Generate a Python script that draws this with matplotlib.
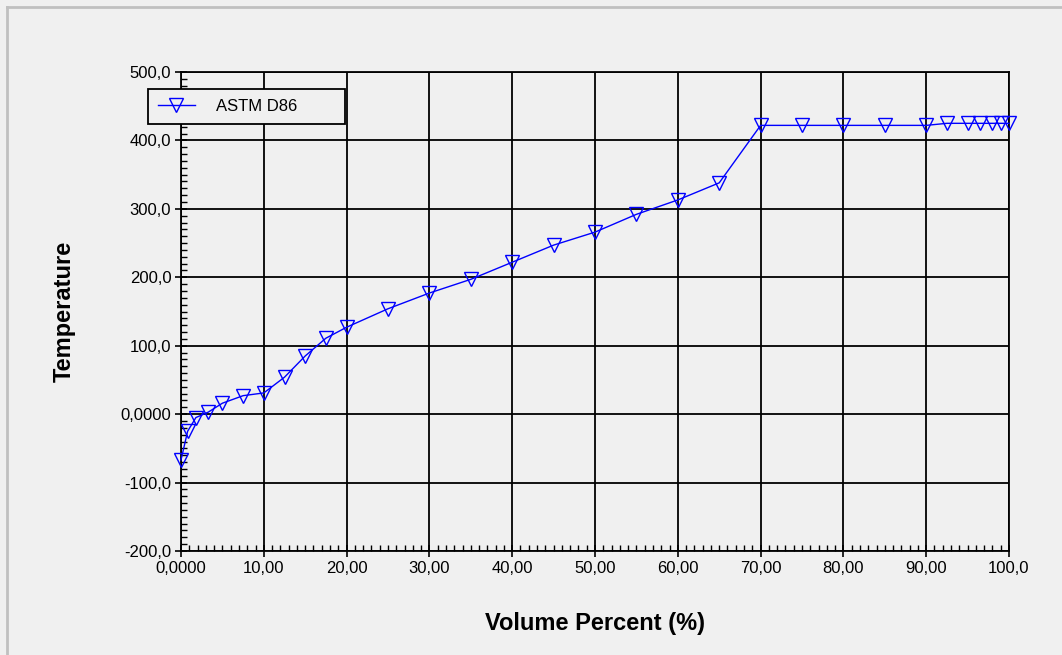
import matplotlib
matplotlib.use('Agg')
import matplotlib.pyplot as plt
from matplotlib.lines import Line2D
from matplotlib.ticker import MultipleLocator

# --- Data ---
volume_pct = [0, 0.8, 1.8, 3.3, 5, 7.5, 10, 12.5, 15, 17.5, 20, 25, 30, 35, 40,
              45, 50, 55, 60, 65, 70, 75, 80, 85, 90, 92.5, 95, 96.5, 98, 99, 100]
temperature = [-67, -25, -5, 3, 16, 27, 31, 54, 85, 111, 127, 154, 177, 197, 222,
               247, 266, 292, 313, 338, 422, 422, 422, 422, 422, 425, 425, 425, 425, 425, 425]

x_ticks = [0, 10, 20, 30, 40, 50, 60, 70, 80, 90, 100]
x_tick_labels = ['0,0000', '10,00', '20,00', '30,00', '40,00', '50,00',
                 '60,00', '70,00', '80,00', '90,00', '100,0']
y_ticks = [-200, -100, 0, 100, 200, 300, 400, 500]
y_tick_labels = ['-200,0', '-100,0', '0,0000', '100,0', '200,0', '300,0', '400,0', '500,0']

BG = '#f0f0f0'
plt.rcParams['font.family'] = ['Liberation Sans', 'DejaVu Sans']

fig = plt.figure(figsize=(10.62, 6.55), dpi=100, facecolor=BG)
ax = fig.add_axes([181 / 1062, 1 - 551 / 655, 828 / 1062, 479 / 655])
ax.set_facecolor(BG)

ax.plot(volume_pct, temperature, color='#0000ff', linewidth=1.0,
        marker='v', markersize=9.5, markerfacecolor='none',
        markeredgecolor='#0000ff', markeredgewidth=1.0, label='ASTM D86',
        clip_on=False, zorder=3)

ax.set_xlim(0, 100)
ax.set_ylim(-200, 500)
ax.set_xticks(x_ticks)
ax.set_xticklabels(x_tick_labels)
ax.set_yticks(y_ticks)
ax.set_yticklabels(y_tick_labels)
ax.xaxis.set_minor_locator(MultipleLocator(1))
ax.yaxis.set_minor_locator(MultipleLocator(10))
ax.tick_params(which='major', direction='inout', length=8, width=1.2,
               labelsize=12, colors='black', pad=3)
ax.tick_params(which='minor', direction='in', length=4, width=1.0, colors='black')

ax.grid(True, which='major', color='black', linewidth=1.3)
for s in ax.spines.values():
    s.set_color('black')
    s.set_linewidth(1.3)

ax.set_xlabel('Volume Percent (%)', fontsize=17, fontweight='bold', labelpad=26)
ax.set_ylabel('Temperature', fontsize=17, fontweight='bold', labelpad=32)

leg = ax.legend(loc='upper left', bbox_to_anchor=(-33 / 828, 1 - 17 / 479), fontsize=12,
                frameon=True, fancybox=False, borderpad=0.6, handlelength=2.2,
                borderaxespad=0, handletextpad=1.3)
leg.get_frame().set_facecolor(BG)
leg.get_frame().set_edgecolor('black')
leg.get_frame().set_linewidth(1.3)
leg.get_frame().set_alpha(1)
leg.get_lines()[0].set_markevery([1])
for t in leg.get_texts():
    t.set_text('ASTM D86        ')

# outer panel border (top and left)
fig.add_artist(Line2D([7 / 1062, 1], [1 - 7 / 655, 1 - 7 / 655],
                      transform=fig.transFigure, color='#c0c0c0', linewidth=2))
fig.add_artist(Line2D([7 / 1062, 7 / 1062], [0, 1 - 7 / 655],
                      transform=fig.transFigure, color='#c0c0c0', linewidth=2))

fig.savefig('out.png', dpi=100, facecolor=BG)
